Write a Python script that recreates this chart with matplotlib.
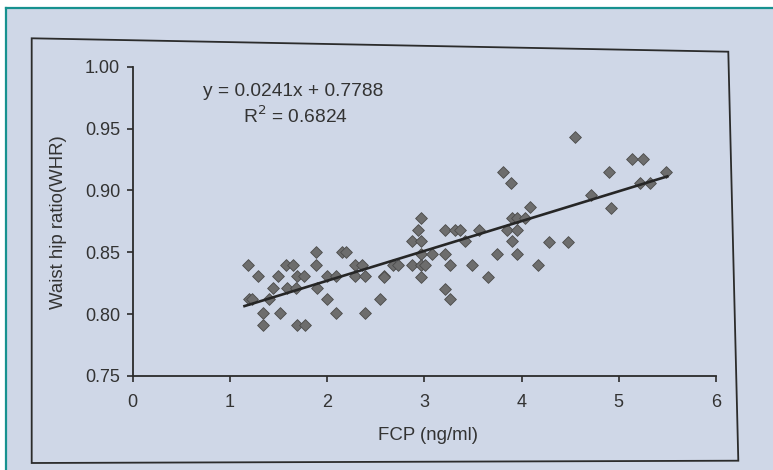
import numpy as np
import matplotlib
matplotlib.use("Agg")
import matplotlib.pyplot as plt
from matplotlib.patches import Polygon, Rectangle
from matplotlib.lines import Line2D

plt.rcParams["font.family"] = ["Liberation Sans", "DejaVu Sans"]

# ------------------------------------------------------------
# data
# ------------------------------------------------------------
fcp = [
    1.19, 1.89, 2.15, 2.19, 1.58, 1.65, 1.89, 2.29, 2.36,
    1.29, 1.49, 1.69, 1.76, 2.00, 2.09, 2.29, 2.39, 2.58,
    1.44, 1.59, 1.68, 1.90,
    1.20, 1.23, 1.40, 2.00, 2.54,
    1.34, 1.52, 2.09, 2.39,
    1.34, 1.69, 1.77,
    4.09, 2.97, 3.90, 3.95, 4.04,
    2.93, 3.21, 3.32, 3.37, 3.56, 3.85, 3.95,
    2.87, 2.97, 3.42, 3.90,
    2.97, 3.08, 3.21, 3.75, 3.95,
    2.68, 2.73, 2.87, 2.97, 3.01, 3.26, 3.49, 4.17,
    2.59, 2.97, 3.65,
    3.21, 3.26,
    4.55, 5.14, 5.25, 3.81, 4.90, 5.49, 3.89, 5.22, 5.32,
    4.71, 4.92, 4.28, 4.48,
]
whr = [
    0.840, 0.850, 0.850, 0.850, 0.840, 0.840, 0.840, 0.840, 0.840,
    0.831, 0.831, 0.831, 0.831, 0.831, 0.831, 0.831, 0.831, 0.831,
    0.821, 0.821, 0.821, 0.821,
    0.812, 0.812, 0.812, 0.812, 0.812,
    0.801, 0.801, 0.801, 0.801,
    0.791, 0.791, 0.791,
    0.887, 0.878, 0.878, 0.878, 0.878,
    0.868, 0.868, 0.868, 0.868, 0.868, 0.868, 0.868,
    0.859, 0.859, 0.859, 0.859,
    0.849, 0.849, 0.849, 0.849, 0.849,
    0.840, 0.840, 0.840, 0.840, 0.840, 0.840, 0.840, 0.840,
    0.830, 0.830, 0.830,
    0.820, 0.812,
    0.943, 0.925, 0.925, 0.915, 0.915, 0.915, 0.906, 0.906, 0.906,
    0.896, 0.886, 0.858, 0.858,
]

# trend line as printed on the chart
SLOPE = 0.0241
INTERCEPT = 0.7788
R2 = 0.6824
fit_x = [1.15, 5.5]

x_ticks = [0, 1, 2, 3, 4, 5, 6]
y_ticks = [0.75, 0.80, 0.85, 0.90, 0.95, 1.00]

PAPER = "#cfd7e7"
INK = "#333333"
W, H = 773, 470

# ------------------------------------------------------------
# figure + photo background
# ------------------------------------------------------------
fig = plt.figure(figsize=(W / 100, H / 100), dpi=100, facecolor="white")

def px(x, y):
    return (x / W, 1 - y / H)

fig.patches.append(Rectangle(px(6, H), (W - 6) / W, (H - 8) / H,
                             transform=fig.transFigure, facecolor=PAPER,
                             edgecolor="none", zorder=-2))
fig.lines.append(Line2D([6 / W, 1], [1 - 8 / H, 1 - 8 / H],
                        transform=fig.transFigure, color="#17918f", lw=1.6,
                        zorder=-1))
fig.lines.append(Line2D([6 / W, 6 / W], [0, 1 - 8 / H],
                        transform=fig.transFigure, color="#17918f", lw=1.6,
                        zorder=-1))

# chart border (slightly skewed in the photo)
corners = [px(31.7, 38.3), px(728.3, 51.7), px(738.3, 460.7), px(31.7, 463)]
fig.patches.append(Polygon(corners, closed=True, transform=fig.transFigure,
                           facecolor="none", edgecolor="#2b2b2b", lw=1.3,
                           zorder=-1))

# ------------------------------------------------------------
# plot
# ------------------------------------------------------------
ax = fig.add_axes([132.7 / W, 1 - 376 / H, (716 - 132.7) / W, (376 - 66.7) / H])
ax.set_zorder(5)
ax.set_facecolor("none")

ax.scatter(fcp, whr, marker="D", s=36, color="#6d6d6d",
           edgecolor="#4c4c4c", linewidth=0.6, zorder=3)

fit_y = [SLOPE * v + INTERCEPT for v in fit_x]
ax.plot(fit_x, fit_y, color="#262626", lw=1.9, zorder=4)

ax.set_xlim(0, 6)
ax.set_ylim(0.75, 1.00)
ax.set_xticks(x_ticks)
ax.set_yticks(y_ticks)
ax.set_xticklabels([str(t) for t in x_ticks])
ax.set_yticklabels([f"{t:.2f}" for t in y_ticks])

for side in ["top", "right"]:
    ax.spines[side].set_visible(False)
for side in ["left", "bottom"]:
    ax.spines[side].set_color("#2b2b2b")
    ax.spines[side].set_linewidth(1.3)

ax.tick_params(axis="both", direction="out", length=4, width=1.2,
               color="#2b2b2b", labelcolor=INK, labelsize=13)
ax.tick_params(axis="x", pad=9)
ax.tick_params(axis="y", pad=5)

ax.set_xlabel("FCP (ng/ml)", fontsize=13.4, color=INK)
ax.xaxis.set_label_coords(0.507, -0.165)
ax.set_ylabel("Waist hip ratio(WHR)", fontsize=13.4, color=INK)
ax.yaxis.set_label_coords(-0.113, 0.496)

ax.text(1.65, 0.980, f"y = {SLOPE}x + {INTERCEPT}", fontsize=13.8,
        color=INK, ha="center", va="center")
ax.text(1.67, 0.960, f"R$^2$ = {R2}", fontsize=13.8,
        color=INK, ha="center", va="center")

fig.savefig("out.png", dpi=100, facecolor=fig.get_facecolor())
